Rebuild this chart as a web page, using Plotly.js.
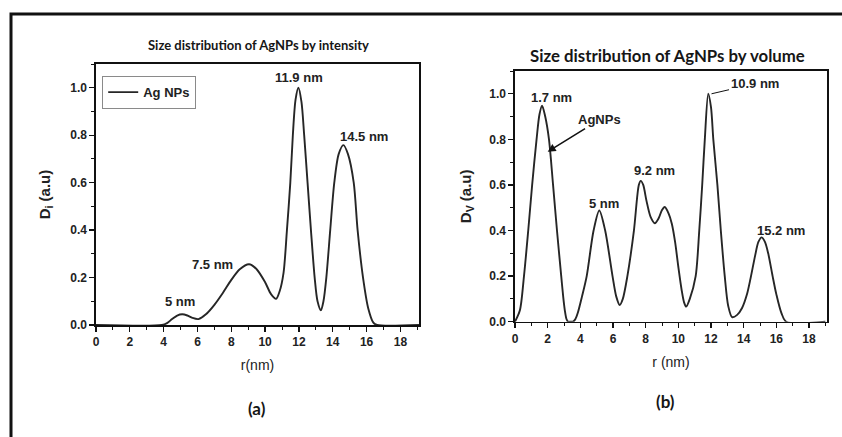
<!DOCTYPE html>
<html>
<head>
<meta charset="utf-8">
<script src="https://cdn.plot.ly/plotly-3.0.1.min.js"></script>
<style>html,body{margin:0;padding:0;background:#fff;}#chart{width:842px;height:437px;}</style>
</head>
<body>
<div id="chart"></div>
<script>
// (a) intensity distribution
const rIntensity = [0, 3.9, 4.2, 4.5, 4.8, 5.1, 5.4, 5.7, 6.06, 6.5, 7.0, 7.5, 8.0, 8.5, 9.05, 9.5, 10.0, 10.35, 10.65, 10.85, 11.09, 11.29, 11.49, 11.64, 11.8, 11.97, 12.15, 12.31, 12.51, 12.71, 12.93, 13.1, 13.3, 13.45, 13.62, 13.85, 14.09, 14.35, 14.63, 14.9, 15.24, 15.47, 15.79, 16.1, 16.4, 16.62, 19.1];
const dIntensity = [0, 0, 0.008, 0.025, 0.04, 0.045, 0.04, 0.03, 0.025, 0.045, 0.085, 0.135, 0.19, 0.235, 0.256, 0.235, 0.18, 0.13, 0.11, 0.14, 0.22, 0.4, 0.6, 0.8, 0.95, 1.0, 0.94, 0.8, 0.6, 0.4, 0.2, 0.1, 0.062, 0.1, 0.2, 0.4, 0.6, 0.72, 0.758, 0.72, 0.6, 0.4, 0.2, 0.07, 0.01, 0, 0];
// (b) volume distribution
const rVolume = [0, 0.3, 0.55, 0.81, 1.05, 1.32, 1.5, 1.66, 1.85, 2.08, 2.33, 2.57, 2.83, 2.95, 3.05, 3.15, 3.25, 3.4, 3.55, 3.7, 3.85, 4.1, 4.39, 4.81, 5.16, 5.52, 5.97, 6.2, 6.41, 6.6, 6.88, 7.28, 7.58, 7.7, 7.85, 8.05, 8.3, 8.56, 8.8, 9.0, 9.17, 9.4, 9.6, 9.8, 10.0, 10.2, 10.35, 10.48, 10.7, 11.06, 11.28, 11.46, 11.62, 11.83, 12.0, 12.14, 12.39, 12.6, 12.84, 13.05, 13.29, 13.6, 13.9, 14.2, 14.42, 14.7, 14.9, 15.1, 15.3, 15.5, 15.77, 16.0, 16.3, 16.6, 19];
const dVolume = [0, 0.05, 0.2, 0.4, 0.6, 0.8, 0.91, 0.948, 0.9, 0.8, 0.6, 0.4, 0.2, 0.11, 0.05, 0.012, 0, 0, 0, 0.012, 0.04, 0.11, 0.2, 0.4, 0.488, 0.4, 0.2, 0.11, 0.073, 0.1, 0.2, 0.4, 0.6, 0.618, 0.6, 0.53, 0.46, 0.432, 0.455, 0.49, 0.503, 0.475, 0.43, 0.35, 0.24, 0.14, 0.085, 0.066, 0.1, 0.2, 0.4, 0.6, 0.8, 1.0, 0.94, 0.8, 0.6, 0.4, 0.2, 0.07, 0.02, 0.03, 0.06, 0.12, 0.19, 0.29, 0.35, 0.37, 0.35, 0.3, 0.2, 0.12, 0.04, 0, 0];

const seriesName = "Ag NPs";
const titleA = "Size distribution of AgNPs by intensity";
const titleB = "Size distribution of AgNPs by volume";
const peakLabelsA = [{x: 11.98, y: 1.045, t: "11.9 nm"}, {x: 15.83, y: 0.796, t: "14.5 nm"}, {x: 6.91, y: 0.257, t: "7.5 nm"}, {x: 4.97, y: 0.098, t: "5 nm"}];
const peakLabelsB = [{x: 2.25, y: 0.983, t: "1.7 nm"}, {x: 5.46, y: 0.517, t: "5 nm"}, {x: 8.56, y: 0.662, t: "9.2 nm"}, {x: 16.26, y: 0.399, t: "15.2 nm"}];

const W = 842, H = 437;
const px = v => v / W;
const py = v => (H - v) / H;

const lineStyle = {color: '#262626', width: 1.9, shape: 'spline', smoothing: 0.8};
const traces = [
  {x: rIntensity, y: dIntensity, type: 'scatter', mode: 'lines', name: seriesName, line: lineStyle, xaxis: 'x', yaxis: 'y', showlegend: true},
  {x: rVolume, y: dVolume, type: 'scatter', mode: 'lines', name: 'AgNPs', line: lineStyle, xaxis: 'x2', yaxis: 'y2', showlegend: false}
];

const tickFont = {family: 'Liberation Sans, Arial, sans-serif', size: 12, color: '#222', weight: 'bold'};
function xAxis(dom, anchor, title, standoff) {
  return {domain: dom, anchor: anchor, range: [0, 19.1], dtick: 2, tick0: 0, showgrid: false, zeroline: false,
    showline: true, mirror: true, linecolor: '#111', linewidth: 1.6, ticks: 'outside', ticklen: 5, tickwidth: 1.3, tickcolor: '#111',
    minor: {dtick: 1, ticks: 'outside', ticklen: 3, tickwidth: 1, tickcolor: '#111'},
    tickfont: tickFont, automargin: false,
    title: {text: title, font: {family: 'Liberation Sans, Arial, sans-serif', size: 14, color: '#222'}, standoff: standoff}};
}
function yAxis(dom, anchor, title, standoff) {
  return {domain: dom, anchor: anchor, range: [0, 1.1], dtick: 0.2, tick0: 0, tickformat: '.1f', showgrid: false, zeroline: false,
    showline: true, mirror: true, linecolor: '#111', linewidth: 1.6, ticks: 'outside', ticklen: 5, tickwidth: 1.3, tickcolor: '#111',
    minor: {dtick: 0.1, ticks: 'outside', ticklen: 3, tickwidth: 1, tickcolor: '#111'},
    tickfont: tickFont, automargin: false,
    title: {text: title, font: {family: 'Liberation Sans, Arial, sans-serif', size: 15, color: '#222', weight: 'bold'}, standoff: standoff}};
}

const annFont = {family: 'Liberation Sans, Arial, sans-serif', size: 13, color: '#222', weight: 'bold'};
const annotations = [];
peakLabelsA.forEach(p => annotations.push({x: p.x, y: p.y, xref: 'x', yref: 'y', text: p.t, showarrow: false, xanchor: 'center', yanchor: 'middle', font: annFont}));
peakLabelsB.forEach(p => annotations.push({x: p.x, y: p.y, xref: 'x2', yref: 'y2', text: p.t, showarrow: false, xanchor: 'center', yanchor: 'middle', font: annFont}));
annotations.push({x: 2.0, y: 0.746, xref: 'x2', yref: 'y2', text: 'AgNPs', showarrow: true, arrowhead: 2, arrowsize: 1, arrowwidth: 1.6, arrowcolor: '#111', ax: 52, ay: -32, font: annFont});
annotations.push({x: 12.03, y: 1.0, xref: 'x2', yref: 'y2', text: '10.9 nm', showarrow: true, arrowhead: 0, arrowwidth: 1, arrowcolor: '#111', ax: 43, ay: -10, font: annFont});
const paperText = (x, y, text, size) => ({x: px(x), y: py(y), xref: 'paper', yref: 'paper', xanchor: 'center', yanchor: 'middle', text: text, showarrow: false,
  font: {family: 'Lato, Liberation Sans, sans-serif', size: size, color: '#161616', weight: 'bold'}});
annotations.push(paperText(258, 45, titleA, 13));
annotations.push(paperText(667, 55, titleB, 16.8));
annotations.push(paperText(257, 408, '(a)', 17));
annotations.push(paperText(665, 401, '(b)', 17));

const layout = {
  width: W, height: H, margin: {l: 0, r: 0, t: 0, b: 0}, paper_bgcolor: '#fff', plot_bgcolor: '#fff',
  xaxis: xAxis([px(96), px(419)], 'y', 'r(nm)', 12),
  yaxis: yAxis([py(325), py(64)], 'x', 'D<sub>i</sub> (a.u)', 16),
  xaxis2: xAxis([px(515), px(827)], 'y2', 'r (nm)', 12),
  yaxis2: yAxis([py(321.7), py(71)], 'x2', 'D<sub>V</sub> (a.u)', 14),
  showlegend: true,
  legend: {x: px(102), y: py(76), xanchor: 'left', yanchor: 'top', bgcolor: 'rgba(255,255,255,0)', bordercolor: '#8a8a8a', borderwidth: 1.2,
    font: {family: 'Liberation Sans, Arial, sans-serif', size: 13, color: '#222', weight: 'bold'}, itemwidth: 30},
  annotations: annotations,
  shapes: [{type: 'rect', xref: 'paper', yref: 'paper', x0: px(11), x1: 1.05, y0: -0.05, y1: py(14), line: {color: '#111', width: 3}}]
};
Plotly.newPlot('chart', traces, layout, {displayModeBar: false, staticPlot: true});
</script>
</body>
</html>
